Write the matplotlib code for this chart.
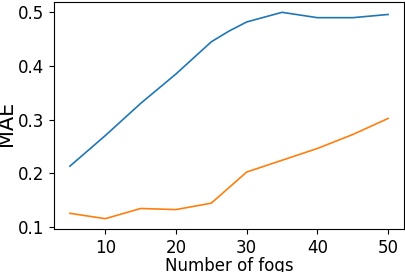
import matplotlib
matplotlib.use("Agg")
import matplotlib.pyplot as plt

# 데이터
num_fogs = [5, 10, 15, 20, 25, 27.5, 30, 35, 40, 45, 50]
mae_blue = [0.213, 0.270, 0.330, 0.385, 0.445, 0.465, 0.482, 0.500, 0.490, 0.490, 0.496]
mae_orange = [0.125, 0.115, 0.134, 0.132, 0.144, 0.173, 0.202, 0.224, 0.246, 0.272, 0.302]

fig = plt.figure(figsize=(4.06, 2.72), dpi=100)
ax = fig.add_axes([54 / 406, 1 - 229 / 272, 350 / 406, 227 / 272])

ax.plot(num_fogs, mae_blue, color="tab:blue", lw=1.2)
ax.plot(num_fogs, mae_orange, color="tab:orange", lw=1.2)

ax.set_xticks([10, 20, 30, 40, 50])
ax.set_yticks([0.1, 0.2, 0.3, 0.4, 0.5])
ax.tick_params(labelsize=12)
ax.set_xlabel("Number of fogs", fontsize=12)
ax.set_ylabel("MAE", fontsize=15)
ax.xaxis.set_label_coords(0.5, -0.123)
ax.yaxis.set_label_coords(-0.108, 0.465)

fig.savefig("out.png", dpi=100)
